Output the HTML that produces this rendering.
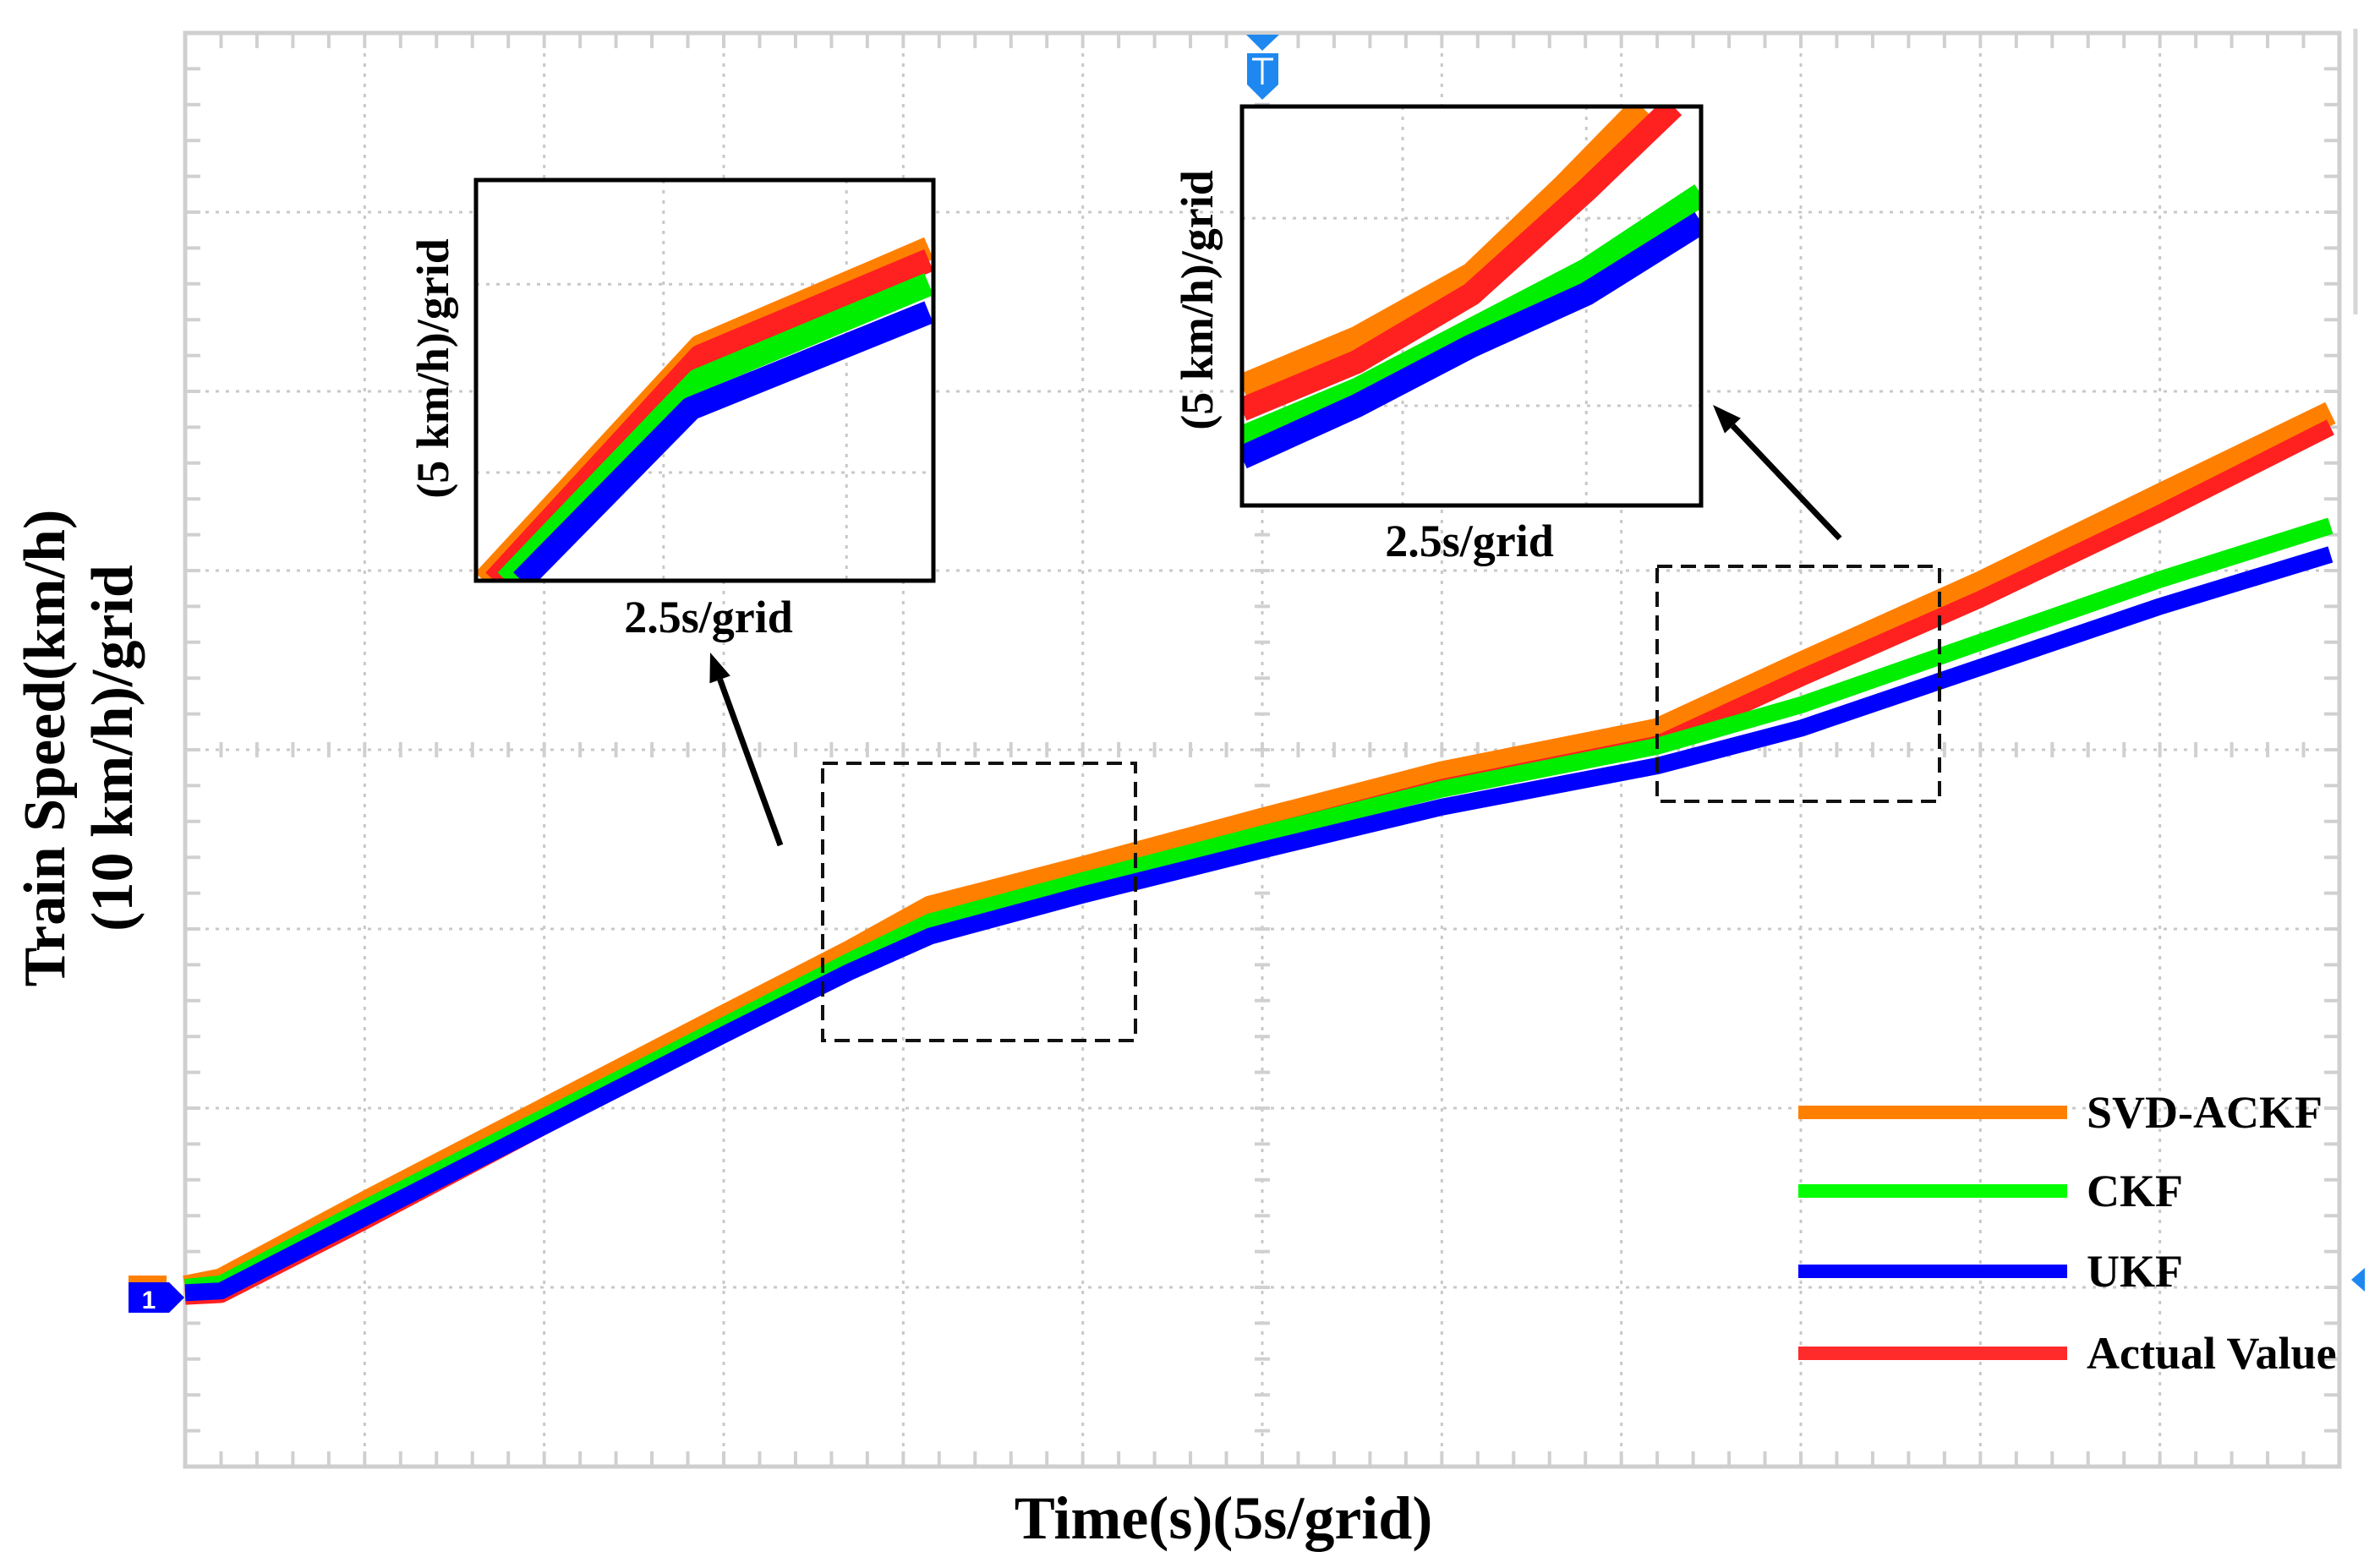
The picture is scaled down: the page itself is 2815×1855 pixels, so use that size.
<!DOCTYPE html>
<html><head><meta charset="utf-8"><style>
html,body{margin:0;padding:0;background:#fff;}
svg{display:block;font-family:"Liberation Serif",serif;font-weight:bold;}
</style></head><body>
<svg id="chart" width="2815" height="1855" viewBox="0 0 2815 1855" xmlns="http://www.w3.org/2000/svg"></svg>
<script>
// main chart data: x in grid units (5 s/grid), y in grid units (10 km/h per grid)
const mainX = [0, 0.2, 1, 2, 3, 3.7, 4.15, 5, 6, 7, 8.2, 9, 10, 11, 11.95];
const ukfY = [0.97, 0.98, 1.39, 1.9, 2.41, 2.76, 2.96, 3.19, 3.44, 3.68, 3.91, 4.12, 4.46, 4.8, 5.09];
const ckfY = [1.0, 1.02, 1.44, 1.95, 2.46, 2.82, 3.04, 3.27, 3.53, 3.78, 4.02, 4.25, 4.6, 4.95, 5.25];
const svdY = [1.0, 1.04, 1.47, 1.99, 2.51, 2.87, 3.12, 3.34, 3.61, 3.87, 4.11, 4.48, 4.93, 5.42, 5.88];
const actY = [0.95, 0.96, 1.37, 1.9, 2.44, 2.8, 3.03, 3.26, 3.53, 3.79, 4.03, 4.4, 4.84, 5.32, 5.8];
// inset 1 data (local units 0..10)
const in1SvdX = [0.17, 4.9, 9.9], in1SvdY = [0, 5.85, 8.3];
const in1ActX = [0.4, 4.9, 9.9], in1ActY = [0, 5.6, 8.0];
const in1CkfX = [0.66, 4.85, 9.9], in1CkfY = [0, 5.0, 7.4];
const in1UkfX = [1.0, 4.7, 9.9], in1UkfY = [0, 4.3, 6.7];
// inset 2 data
const in2SvdX = [0, 2.5, 5, 7, 8.7], in2SvdY = [3.0, 4.2, 5.8, 8.0, 10];
const in2ActX = [0, 2.5, 5, 7.5, 9.4], in2ActY = [2.4, 3.6, 5.3, 7.9, 10];
const in2CkfX = [0, 2.5, 5, 7.5, 10], in2CkfY = [1.7, 2.9, 4.4, 5.9, 7.8];
const in2UkfX = [0, 2.5, 5, 7.5, 10], in2UkfY = [1.2, 2.5, 4.0, 5.3, 7.1];
const legendLabels = ["SVD-ACKF", "CKF", "UKF", "Actual Value"];
const legendColors = ["#ff8000", "#00ff00", "#0000ff", "#ff2a2a"];

const NS = "http://www.w3.org/2000/svg";
const svg = document.getElementById('chart');
function el(tag, attrs, parent, text) {
  const e = document.createElementNS(NS, tag);
  for (const k in attrs) e.setAttribute(k, attrs[k]);
  if (text !== undefined) e.textContent = text;
  (parent || svg).appendChild(e);
  return e;
}
const L = 219, R = 2767, T = 39, B = 1735;
const gx = (R - L) / 12, gy = (B - T) / 8;
const sx = v => L + v * gx, sy = v => B - v * gy;

// grid
const grid = el('g', {});


for (let i = 1; i < 12; i++) el('line', {x1: sx(i), x2: sx(i), y1: T, y2: B, stroke: '#c8c8c8', 'stroke-width': 3, 'stroke-dasharray': '4 8'}, grid);
for (let j = 1; j < 8; j++) el('line', {x1: L, x2: R, y1: sy(j), y2: sy(j), stroke: '#c8c8c8', 'stroke-width': 3, 'stroke-dasharray': '4 8'}, grid);
for (let k = 1; k < 60; k++) {
  const x = L + k * gx / 5;
  el('line', {x1: x, x2: x, y1: T, y2: T + 18, stroke: '#d0d0d0', 'stroke-width': 4}, grid);
  el('line', {x1: x, x2: x, y1: B, y2: B - 18, stroke: '#d0d0d0', 'stroke-width': 4}, grid);
  el('line', {x1: x, x2: x, y1: sy(4) - 9, y2: sy(4) + 9, stroke: '#d0d0d0', 'stroke-width': 4}, grid);
}
for (let k = 1; k < 40; k++) {
  const y = T + k * gy / 5;
  el('line', {x1: L, x2: L + 18, y1: y, y2: y, stroke: '#d0d0d0', 'stroke-width': 4}, grid);
  el('line', {x1: R, x2: R - 18, y1: y, y2: y, stroke: '#d0d0d0', 'stroke-width': 4}, grid);
  el('line', {x1: sx(6) - 9, x2: sx(6) + 9, y1: y, y2: y, stroke: '#d0d0d0', 'stroke-width': 4}, grid);
}
const frame = el('rect', {x: L, y: T, width: R - L, height: B - T, fill: 'none', stroke: '#cfcfcf', 'stroke-width': 5});


const sidePanel = el('line', {x1: 2786, x2: 2786, y1: 34, y2: 372, stroke: '#d6d6d6', 'stroke-width': 5});



function path(xs, ys, fx, fy) {
  return xs.map((x, i) => (i ? 'L' : 'M') + fx(x).toFixed(1) + ' ' + fy(ys[i]).toFixed(1)).join(' ');
}
const series = [
  ['svd-ackf-line', svdY, '#ff8000', 28],
  ['actual-value-line', actY, '#ff2020', 20],
  ['ckf-line', ckfY, '#00ee00', 20],
  ['ukf-line', ukfY, '#0000ff', 20]
];
series.forEach(s => {
  const p = el('path', {d: path(mainX, s[1], sx, sy), fill: 'none', stroke: s[2], 'stroke-width': s[3], 'stroke-linejoin': 'round'});
  
  
});

// markers
const m1 = el('g', {});


el('rect', {x: 152, y: 1509, width: 45, height: 8, fill: '#ff8000'}, m1);
el('path', {d: 'M152 1517 H200 L218 1535 L200 1553 H152 Z', fill: '#0000ff'}, m1);
el('text', {x: 176, y: 1548, 'font-size': 30, fill: '#fff', 'text-anchor': 'middle', 'font-family': 'Liberation Sans, sans-serif'}, m1, '1');
const mT = el('g', {});


el('path', {d: 'M1474 41 H1513 L1493 60 Z', fill: '#1e88f0'}, mT);
el('path', {d: 'M1475 63 H1512 V100 L1493 118 L1475 100 Z', fill: '#1e88f0'}, mT);
el('path', {d: 'M1481 70 H1506 M1493 70 V100', stroke: '#fff', 'stroke-width': 3}, mT);
const mR = el('path', {d: 'M2797 1500 L2781 1514 L2797 1528 Z', fill: '#1e88f0'});



// dashed zoom boxes
const box1 = el('rect', {x: 973, y: 903, width: 370, height: 328, fill: 'none', stroke: '#111', 'stroke-width': 4, 'stroke-dasharray': '18 10'});


const box2 = el('rect', {x: 1960, y: 670, width: 334, height: 278, fill: 'none', stroke: '#111', 'stroke-width': 4, 'stroke-dasharray': '18 10'});



function arrow(x1, y1, x2, y2, name) {
  const g = el('g', {});
  
  
  const a = Math.atan2(y2 - y1, x2 - x1), h = 34, w = 13;
  const bx = x2 - h * Math.cos(a), by = y2 - h * Math.sin(a);
  el('line', {x1, y1, x2: bx, y2: by, stroke: '#000', 'stroke-width': 7}, g);
  el('path', {d: `M${x2} ${y2} L${bx + w * Math.sin(a)} ${by - w * Math.cos(a)} L${bx - w * Math.sin(a)} ${by + w * Math.cos(a)} Z`, fill: '#000'}, g);
}
arrow(923, 1000, 840, 772, 'arrow-1');
arrow(2176, 637, 2026, 479, 'arrow-2');

function inset(name, x0, y0, w, h, vls, hls, data, lx, ly, ylx, yly) {
  const g = el('g', {});
  
  
  const cid = name + '-clip';
  const cp = el('clipPath', {id: cid}, g);
  el('rect', {x: x0, y: y0, width: w, height: h}, cp);
  el('rect', {x: x0, y: y0, width: w, height: h, fill: '#fff'}, g);
  vls.forEach(f => el('line', {x1: x0 + f * w, x2: x0 + f * w, y1: y0, y2: y0 + h, stroke: '#c8c8c8', 'stroke-width': 3, 'stroke-dasharray': '4 8'}, g));
  hls.forEach(f => el('line', {x1: x0, x2: x0 + w, y1: y0 + f * h, y2: y0 + f * h, stroke: '#c8c8c8', 'stroke-width': 3, 'stroke-dasharray': '4 8'}, g));
  const fx = v => x0 + v / 10 * w, fy = v => y0 + h - v / 10 * h;
  const cg = el('g', {'clip-path': `url(#${cid})`}, g);
  data.forEach(d => {
    const p = el('path', {d: path(d[1], d[2], fx, fy), fill: 'none', stroke: d[3], 'stroke-width': 28, 'stroke-linejoin': 'round'}, cg);
    
    
  });
  el('rect', {x: x0, y: y0, width: w, height: h, fill: 'none', stroke: '#000', 'stroke-width': 5}, g);
  const t = el('text', {x: lx, y: ly, 'font-size': 54, 'text-anchor': 'middle'}, g, '2.5s/grid');
  
  
  const ty = el('text', {x: 0, y: 0, 'font-size': 54, 'text-anchor': 'middle', transform: `translate(${ylx},${yly}) rotate(-90)`}, g, '(5 km/h)/grid');
  
  
}
inset('inset-1', 563, 213, 541, 474, [0.41, 0.81], [0.26, 0.73], [
  ['inset-1-svd-ackf', in1SvdX, in1SvdY, '#ff8000'],
  ['inset-1-actual', in1ActX, in1ActY, '#ff2020'],
  ['inset-1-ckf', in1CkfX, in1CkfY, '#00ee00'],
  ['inset-1-ukf', in1UkfX, in1UkfY, '#0000ff']
], 838, 748, 530, 436);
inset('inset-2', 1469, 126, 543, 472, [0.35, 0.75], [0.28, 0.75], [
  ['inset-2-svd-ackf', in2SvdX, in2SvdY, '#ff8000'],
  ['inset-2-actual', in2ActX, in2ActY, '#ff2020'],
  ['inset-2-ckf', in2CkfX, in2CkfY, '#00ee00'],
  ['inset-2-ukf', in2UkfX, in2UkfY, '#0000ff']
], 1738, 658, 1434, 355);

// legend
const leg = el('g', {});


const legY = [1316, 1409, 1504, 1601];
legendLabels.forEach((lab, i) => {
  const e = el('g', {}, leg);
  
  
  el('line', {x1: 2127, x2: 2445, y1: legY[i], y2: legY[i], stroke: legendColors[i], 'stroke-width': 16}, e);
  el('text', {x: 2468, y: legY[i] + 18, 'font-size': 54}, e, lab);
});

// axis titles
const yt = el('text', {'font-size': 70, 'text-anchor': 'middle', transform: 'translate(76,885) rotate(-90)'});


el('tspan', {x: 0, dy: 0}, yt, 'Train Speed(km/h)');
el('tspan', {x: 0, dy: 80}, yt, '(10 km/h)/grid');
const xt = el('text', {x: 1447, y: 1820, 'font-size': 72, 'text-anchor': 'middle'}, svg, 'Time(s)(5s/grid)');


</script>
</body></html>
